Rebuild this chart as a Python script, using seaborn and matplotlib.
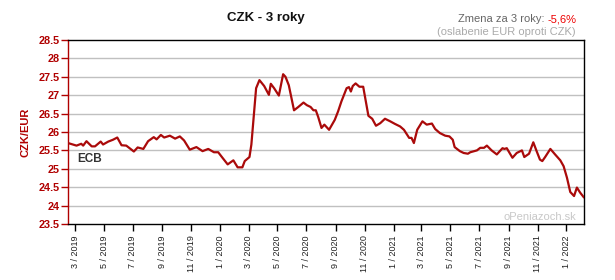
import matplotlib
matplotlib.use("Agg")
import matplotlib.pyplot as plt
import seaborn as sns
import pandas as pd

dates = [
    "2019-02-14", "2019-03-04", "2019-03-14", "2019-03-18", "2019-03-25", "2019-04-05",
    "2019-04-12", "2019-04-24", "2019-04-29", "2019-05-10", "2019-05-20", "2019-05-29",
    "2019-06-07", "2019-06-17", "2019-07-03", "2019-07-11", "2019-07-23", "2019-08-02",
    "2019-08-14", "2019-08-20", "2019-08-29", "2019-09-05", "2019-09-17", "2019-09-28",
    "2019-10-08", "2019-10-17", "2019-10-29", "2019-11-12", "2019-11-25", "2019-12-07",
    "2019-12-19", "2019-12-28", "2020-01-06", "2020-01-17", "2020-01-29", "2020-02-07",
    "2020-02-17", "2020-02-22", "2020-03-03", "2020-03-07", "2020-03-17", "2020-03-24",
    "2020-04-03", "2020-04-13", "2020-04-17", "2020-04-24", "2020-05-04", "2020-05-13",
    "2020-05-18", "2020-05-25", "2020-06-05", "2020-06-14", "2020-06-25", "2020-07-02",
    "2020-07-10", "2020-07-16", "2020-07-21", "2020-07-26", "2020-08-02", "2020-08-08",
    "2020-08-18", "2020-08-30", "2020-09-06", "2020-09-13", "2020-09-24", "2020-09-29",
    "2020-10-03", "2020-10-07", "2020-10-13", "2020-10-21", "2020-10-29", "2020-11-09",
    "2020-11-17", "2020-11-25", "2020-12-04", "2020-12-14", "2020-12-25", "2021-01-04",
    "2021-01-15", "2021-01-23", "2021-02-03", "2021-02-08", "2021-02-13", "2021-02-20",
    "2021-03-03", "2021-03-12", "2021-03-23", "2021-03-30", "2021-04-09", "2021-04-20",
    "2021-04-29", "2021-05-06", "2021-05-10", "2021-05-21", "2021-05-29", "2021-06-07",
    "2021-06-12", "2021-06-26", "2021-07-03", "2021-07-11", "2021-07-17", "2021-07-27",
    "2021-08-07", "2021-08-19", "2021-08-23", "2021-08-28", "2021-09-09", "2021-09-18",
    "2021-09-29", "2021-10-04", "2021-10-14", "2021-10-23", "2021-10-30", "2021-11-06",
    "2021-11-11", "2021-11-17", "2021-11-28", "2021-12-08", "2021-12-19", "2021-12-26",
    "2022-01-02", "2022-01-09", "2022-01-17", "2022-01-23", "2022-01-30", "2022-02-07",
]
rates = [
    25.70, 25.63, 25.68, 25.63, 25.75, 25.61,
    25.61, 25.74, 25.66, 25.74, 25.79, 25.85,
    25.64, 25.63, 25.47, 25.58, 25.54, 25.75,
    25.86, 25.80, 25.92, 25.85, 25.90, 25.82,
    25.88, 25.77, 25.52, 25.59, 25.48, 25.54,
    25.45, 25.45, 25.30, 25.12, 25.23, 25.04,
    25.04, 25.21, 25.32, 25.66, 27.19, 27.41,
    27.25, 27.01, 27.31, 27.19, 26.99, 27.57,
    27.50, 27.27, 26.59, 26.68, 26.80, 26.73,
    26.68, 26.59, 26.59, 26.41, 26.11, 26.20,
    26.06, 26.33, 26.56, 26.83, 27.19, 27.22,
    27.10, 27.25, 27.32, 27.23, 27.23, 26.44,
    26.36, 26.17, 26.24, 26.36, 26.29, 26.22,
    26.15, 26.06, 25.84, 25.84, 25.70, 26.06,
    26.29, 26.20, 26.23, 26.08, 25.97, 25.90,
    25.88, 25.79, 25.59, 25.48, 25.43, 25.41,
    25.45, 25.50, 25.57, 25.57, 25.63, 25.50,
    25.39, 25.56, 25.54, 25.56, 25.30, 25.43,
    25.50, 25.32, 25.41, 25.72, 25.48, 25.25,
    25.21, 25.32, 25.54, 25.39, 25.23, 25.07,
    24.76, 24.37, 24.26, 24.49, 24.35, 24.22,
]
yticks = [23.5, 24, 24.5, 25, 25.5, 26, 26.5, 27, 27.5, 28, 28.5]
xtick_dates = ["2019-03-01", "2019-05-01", "2019-07-01", "2019-09-01", "2019-11-01",
               "2020-01-01", "2020-03-01", "2020-05-01", "2020-07-01", "2020-09-01",
               "2020-11-01", "2021-01-01", "2021-03-01", "2021-05-01", "2021-07-01",
               "2021-09-01", "2021-11-01", "2022-01-01"]
xtick_labels = ["3 / 2019", "5 / 2019", "7 / 2019", "9 / 2019", "11 / 2019",
                "1 / 2020", "3 / 2020", "5 / 2020", "7 / 2020", "9 / 2020",
                "11 / 2020", "1 / 2021", "3 / 2021", "5 / 2021", "7 / 2021",
                "9 / 2021", "11 / 2021", "1 / 2022"]

sns.set_style("white")
plt.rcParams['font.family'] = ['Liberation Sans', 'DejaVu Sans']

RED = "#b00000"
LINE = "#aa0a0a"

df = pd.DataFrame({"date": pd.to_datetime(dates), "rate": rates})

fig = plt.figure(figsize=(6.15, 2.8), dpi=100)
ax = fig.add_axes([68 / 615, 56 / 280, 516 / 615, 184 / 280])

sns.lineplot(data=df, x="date", y="rate", ax=ax, color=LINE, linewidth=1.6, zorder=3)

ax.set_xlim(df["date"].iloc[0], df["date"].iloc[-1])
ax.set_ylim(23.5, 28.5)
ax.set_yticks(yticks)
ax.set_yticklabels([f"{v:g}" for v in yticks], color=RED, fontweight="bold", fontsize=7.8)
ax.set_xticks(pd.to_datetime(xtick_dates))
ax.set_xticklabels(xtick_labels, rotation=90, fontsize=6.5, color="#222222")
ax.tick_params(axis="y", direction="out", length=5, width=1, color=RED, pad=1, left=True)
ax.tick_params(axis="x", direction="out", length=5, width=1, color="black", pad=3, bottom=True)

ax.grid(False)
for v in yticks[1:-1]:
    ax.axhline(v, color="#c0c0c0", linewidth=1, zorder=1)

for s in ["top", "right", "bottom"]:
    ax.spines[s].set_color("black")
    ax.spines[s].set_linewidth(1)
ax.spines["left"].set_color(RED)
ax.spines["left"].set_linewidth(1)

ax.set_xlabel("")
ax.set_ylabel("CZK/EUR", color=RED, fontweight="bold", fontsize=8, labelpad=6)

ax.text(0.018, 0.355, "ECB", transform=ax.transAxes, fontsize=8.5,
        fontweight="bold", color="#333333", ha="left", va="center")
ax.text(0.985, 0.04, "oPeniazoch.sk", transform=ax.transAxes, fontsize=8,
        color="#c8c8c8", ha="right", va="center")

fig.text(266 / 615, 1 - 18 / 280, "CZK - 3 roky", fontsize=9.5, fontweight="bold",
         ha="center", va="center", color="#111111")
t_red = fig.text(576 / 615, 1 - 19 / 280, "-5,6%", fontsize=8, color="#ee0000",
                 ha="right", va="center")
fig.canvas.draw()
bb = t_red.get_window_extent()
fig.text((bb.x0 - 2) / fig.bbox.width, 1 - 19 / 280, "Zmena za 3 roky:", fontsize=8,
         color="#666666", ha="right", va="center")
fig.text(576 / 615, 1 - 32 / 280, "(oslabenie EUR oproti CZK)", fontsize=8,
         color="#aaaaaa", ha="right", va="center")

fig.savefig("out.png", dpi=100)
